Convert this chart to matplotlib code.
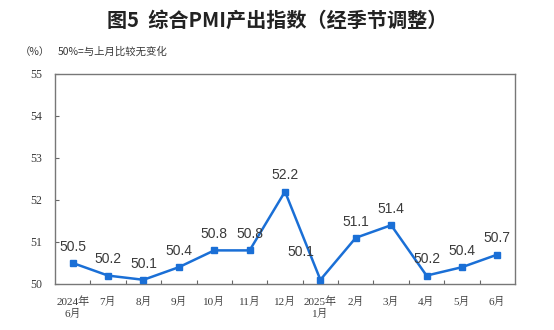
import matplotlib
matplotlib.use("Agg")
import matplotlib.pyplot as plt
import numpy as np

# composite PMI output index, seasonally adjusted
months = ["2024年\n6月", "7月", "8月", "9月", "10月", "11月", "12月",
          "2025年\n1月", "2月", "3月", "4月", "5月", "6月"]
pmi = [50.5, 50.2, 50.1, 50.4, 50.8, 50.8, 52.2, 50.1, 51.1, 51.4, 50.2, 50.4, 50.7]
y_ticks = [50, 51, 52, 53, 54, 55]

LINE = "#1a6fd6"
TEXT = "#3a3a3a"
SERIF = ["Liberation Serif", "Noto Serif CJK SC", "Noto Sans CJK SC"]
CJK = ["Noto Sans CJK SC", "DejaVu Sans"]

fig = plt.figure(figsize=(5.54, 3.30), dpi=100)
ax = fig.add_axes([0.0993, 0.1394, 0.8303, 0.6364])

x = np.arange(len(pmi))
ax.plot(x, pmi, color=LINE, linewidth=1.8, marker="s", markersize=4.5, zorder=3)

# value labels, Jan 2025 sits to the left of its point
for i, v in enumerate(pmi):
    dx, dy = 0, 0.22
    if i == 7:
        dx, dy = -0.55, 0.5
    ax.text(x[i] + dx, v + dy, f"{v:.1f}", ha="center", va="bottom",
            fontsize=10, color=TEXT, family="Liberation Sans")

ax.set_xlim(-0.5, len(pmi) - 0.5)
ax.set_ylim(50, 55)
ax.set_yticks(y_ticks)
ax.set_yticklabels([str(t) for t in y_ticks], family=SERIF, fontsize=8.5, color=TEXT)

# ticks between categories, labels centred under points
ax.set_xticks(np.arange(0.5, len(pmi) - 0.5, 1))
ax.set_xticklabels([])
ax.set_xticks(x, minor=True)
ax.set_xticklabels(months, minor=True, family=SERIF, fontsize=8, color=TEXT,
                   linespacing=1.25, va="top")
ax.tick_params(axis="x", which="minor", length=0, pad=9)
ax.tick_params(axis="x", which="major", direction="in", length=3, color="#666666")
ax.tick_params(axis="y", direction="in", length=3, color="#666666", pad=9)

for s in ax.spines.values():
    s.set_color("#777777")
    s.set_linewidth(1.0)

fig.text(0.5, 0.94, "图5  综合PMI产出指数（经季节调整）", ha="center", va="center",
         fontsize=14.5, fontweight="bold", family=CJK, color="#222222")
fig.text(0.035, 0.843, "（%）", ha="left", va="center", fontsize=7.5, family=CJK, color=TEXT)
fig.text(0.105, 0.843, "50%=与上月比较无变化", ha="left", va="center",
         fontsize=7.5, family=CJK, color=TEXT)

fig.savefig("out.png", dpi=100)
